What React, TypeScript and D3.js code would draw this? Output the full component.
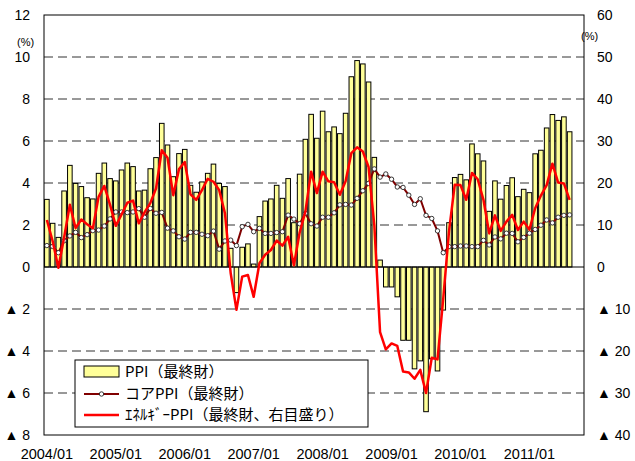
import React from 'react';
import { scaleBand, scaleLinear, line, range } from 'd3';

const width = 635;
const height = 461;
const plot = { left: 44, top: 15, right: 584, bottom: 435 };

// 2004/01 .. 2011/08 (92 months), axis holds 94 month slots
const slotCount = 94;
const tickLabels = ['2004/01', '2005/01', '2006/01', '2007/01', '2008/01', '2009/01', '2010/01', '2011/01'];

// PPI(最終財) y/y %, left axis
const ppi = [
  3.22, 2.08, 1.41, 3.62, 4.84, 3.98, 3.83, 3.3, 3.24, 4.46, 4.95, 4.21,
  4.1, 4.62, 4.95, 4.78, 3.62, 3.66, 4.68, 5.21, 6.84, 5.81, 4.3, 5.4,
  5.6, 3.89, 3.56, 4.05, 4.46, 4.9, 3.98, 3.83, 0.89, -1.22, 0.94, 1.1,
  0.14, 2.4, 3.14, 3.24, 3.89, 3.27, 4.21, 2.11, 4.42, 6.08, 7.27, 6.13,
  7.42, 6.44, 6.67, 6.35, 7.32, 9.06, 9.83, 9.67, 8.81, 5.22, 0.33, -0.95,
  -0.95, -1.42, -3.49, -3.49, -4.85, -4.47, -6.89, -4.37, -4.95, -2.05, 2.11, 4.26,
  4.41, 4.15, 5.86, 5.39, 5.05, 2.65, 4.1, 3.23, 3.88, 4.25, 3.35, 3.7,
  3.54, 5.39, 5.56, 6.62, 7.26, 6.98, 7.15, 6.44,
];

// コアPPI(最終財), left axis
const corePpi = [
  1.02, 0.98, 0.68, 1.25, 1.48, 1.65, 1.4, 1.54, 1.73, 1.76, 1.95, 2.29,
  2.62, 2.62, 2.59, 2.62, 2.78, 2.37, 2.79, 2.56, 2.6, 1.85, 1.72, 1.44,
  1.33, 1.65, 1.65, 1.56, 1.49, 1.71, 0.85, 1.24, 1.28, 1.02, 1.92, 2.03,
  1.68, 1.84, 1.6, 1.6, 1.64, 1.68, 2.47, 2.28, 2.06, 2.56, 2.06, 1.95,
  2.37, 2.37, 2.58, 2.96, 2.98, 2.95, 3.27, 3.63, 3.98, 4.67, 4.28, 4.43,
  4.18, 3.81, 3.79, 3.42, 2.98, 3.25, 2.46, 2.31, 1.72, 0.68, 0.97, 0.97,
  1.0, 1.0, 0.97, 0.97, 1.27, 1.05, 1.43, 1.34, 1.61, 1.6, 1.2, 1.41,
  1.61, 1.79, 1.99, 2.24, 2.1, 2.37, 2.46, 2.48,
];

// エネルギーPPI(最終財), right axis
const energyPpi = [
  11.2, 6.2, -0.2, 7.0, 14.8, 9.3, 11.3, 10.2, 9.2, 16.7, 19.3, 14.8,
  9.8, 12.5, 15.3, 15.8, 10.4, 13.0, 15.2, 18.7, 27.8, 26.0, 17.1, 23.3,
  25.0, 17.3, 16.0, 18.3, 21.0, 20.3, 18.3, 12.8, -1.5, -10.2, -2.3, -1.9,
  -7.1, 0.9, 2.9, 4.05, 6.3, 5.1, 7.2, 0.4, 8.2, 13.2, 22.7, 17.6,
  22.7, 20.4, 20.2, 17.2, 20.4, 27.1, 28.5, 27.5, 23.8, 10.0, -15.5, -19.6,
  -18.2, -18.8, -24.9, -25.1, -26.6, -24.5, -30.0, -21.6, -22.0, -7.5, 8.5, 19.6,
  19.5, 16.0, 22.4, 20.9, 16.0, 8.0, 12.3, 8.6, 10.8, 12.4, 8.8, 10.8,
  8.9, 14.0, 17.0, 19.5, 24.6, 20.1, 19.9, 16.0,
];

const leftTicks = [12, 10, 8, 6, 4, 2, 0, -2, -4, -6, -8];
const rightTicks = [60, 50, 40, 30, 20, 10, 0, -10, -20, -30, -40];
const gridValues = [10, 8, 6, 4, 2, -2, -4, -6];

const fmt = (v: number) => (v < 0 ? `▲ ${Math.abs(v)}` : `${v}`);
const numFont = '"Liberation Sans", Arial, "DejaVu Sans", sans-serif';
const jpFont = '"Noto Sans CJK JP", "Noto Sans", sans-serif';

export default function App() {
  const x = scaleBand<number>().domain(range(slotCount)).range([plot.left, plot.right]).padding(0);
  const bw = x.bandwidth();
  const cx = (i: number) => (x(i) as number) + bw / 2;
  const yL = scaleLinear().domain([-8, 12]).range([plot.bottom, plot.top]);
  const yR = scaleLinear().domain([-40, 60]).range([plot.bottom, plot.top]);

  const coreLine = line<number>().x((d, i) => cx(i)).y((d) => yL(d));
  const energyLine = line<number>().x((d, i) => cx(i)).y((d) => yR(d));

  const barW = bw * 0.8;

  return (
    <svg width={width} height={height} style={{ position: 'absolute', left: 0, top: 0, background: '#fff' }}>
      <rect x={0} y={0} width={width} height={height} fill="#fff" />

      {gridValues.map((v) => (
        <line key={v} x1={plot.left} x2={plot.right} y1={yL(v)} y2={yL(v)}
          stroke="#333" strokeWidth={1} strokeDasharray="9,5" />
      ))}

      {ppi.map((v, i) => (
        <rect key={i}
          x={cx(i) - barW / 2}
          y={Math.min(yL(v), yL(0))}
          width={barW}
          height={Math.abs(yL(v) - yL(0))}
          fill="#FFFF99" stroke="#000" strokeWidth={1} />
      ))}

      <line x1={plot.left} x2={plot.right} y1={yL(0)} y2={yL(0)} stroke="#000" strokeWidth={1} />

      <path d={coreLine(corePpi) || ''} fill="none" stroke="#800000" strokeWidth={2} />
      {corePpi.map((v, i) => (
        <circle key={i} cx={cx(i)} cy={yL(v)} r={2.2} fill="#fff" stroke="#222" strokeWidth={0.9} />
      ))}

      <path d={energyLine(energyPpi) || ''} fill="none" stroke="#FF0000" strokeWidth={2.5} strokeLinejoin="round" />

      <rect x={plot.left} y={plot.top} width={plot.right - plot.left} height={plot.bottom - plot.top}
        fill="none" stroke="#000" strokeWidth={1} />

      {leftTicks.map((v) => (
        <text key={v} x={30} y={yL(v) + 5} textAnchor="end" fontSize={14} fontFamily={numFont} fill="#000">{fmt(v)}</text>
      ))}
      {rightTicks.map((v) => (
        <text key={v} x={597} y={yR(v) + 5} textAnchor="start" fontSize={14} fontFamily={numFont} fill="#000">{fmt(v)}</text>
      ))}
      <text x={17} y={46} fontSize={11} fontFamily={numFont}>(%)</text>
      <text x={581} y={40} fontSize={11} fontFamily={numFont}>(%)</text>

      {tickLabels.map((t, k) => (
        <text key={t} x={cx(k * 12)} y={459} textAnchor="middle" fontSize={14.5} fontFamily={numFont}>{t}</text>
      ))}

      <g fontSize={15} fontFamily={jpFont}>
        <rect x={75} y={360} width={293} height={67} fill="#fff" stroke="#000" strokeWidth={1} />
        <rect x={84} y={366} width={35} height={11} fill="#FFFF99" stroke="#000" strokeWidth={1} />
        <text x={125} y={377}>PPI（最終財）</text>
        <line x1={84} x2={119} y1={394} y2={394} stroke="#800000" strokeWidth={2} />
        <circle cx={101.5} cy={394} r={2.2} fill="#fff" stroke="#222" strokeWidth={0.9} />
        <text x={125} y={398.5}>コアPPI（最終財）</text>
        <line x1={84} x2={119} y1={415} y2={415} stroke="#FF0000" strokeWidth={2.5} />
        <text x={125} y={420}>ｴﾈﾙｷﾞｰPPI（最終財、右目盛り）</text>
      </g>
    </svg>
  );
}
